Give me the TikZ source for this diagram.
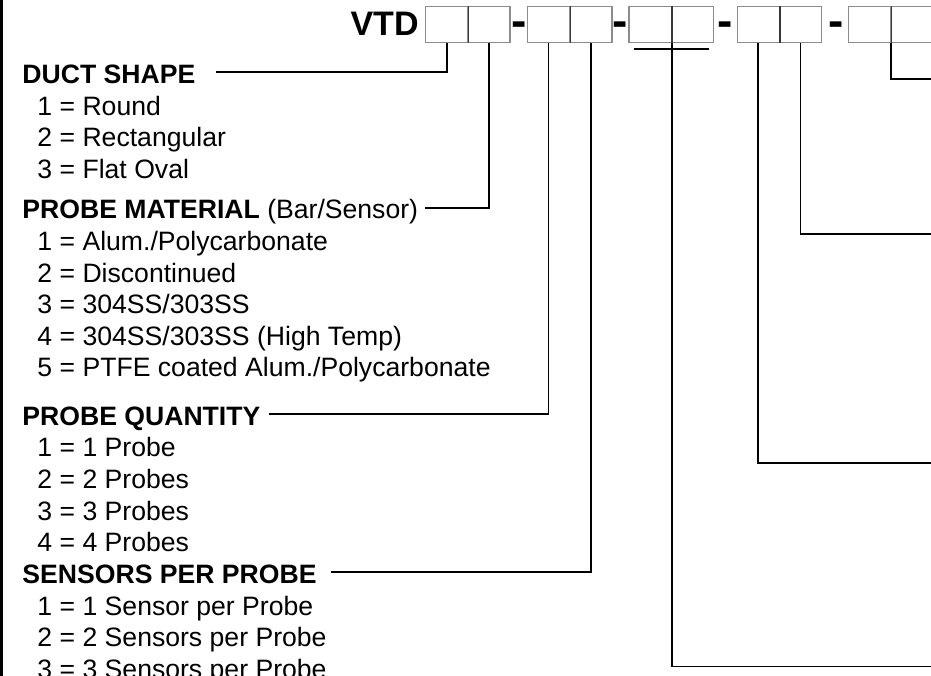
\documentclass[tikz,border=0pt]{standalone}
\usepackage{fontspec}
\setmainfont{Liberation Sans}
\newcommand{\optfont}{\fontsize{26.6}{32}\selectfont}
\newcommand{\codefont}{\fontsize{34}{40}\selectfont\bfseries}
\newcommand{\dashfont}{\fontsize{46}{52}\selectfont\bfseries}
\begin{document}
\begin{tikzpicture}[x=1pt,y=-1pt,line width=1.9pt,font=\optfont,
  cell/.style={draw=black!45,line width=1.4pt,minimum width=42.2pt,minimum height=36pt,inner sep=0pt},
  divider/.style={draw=black!78,line width=1.4pt},
  head/.style={anchor=base west,inner sep=0pt,text height=22pt,text depth=0pt,font=\optfont\bfseries},
  opt/.style={anchor=base west,inner sep=0pt},
  sep/.style={anchor=base,inner sep=0pt,font=\dashfont}]
\useasboundingbox (0,0) rectangle (931,676);
\fill (0,0) rectangle (2.5,676);
\node[anchor=base east,inner sep=0pt,font=\codefont] (vtd) at (419.5,36) {VTD};
\node[cell] (c1) at (446.7,24.5) {};
\node[cell] (c2) at (488.9,24.5) {};
\node[cell] (c3) at (548.5,24.5) {};
\node[cell] (c4) at (590.7,24.5) {};
\node[cell] (c5) at (650.2,24.5) {};
\node[cell] (c6) at (692.4,24.5) {};
\node[cell] (c7) at (758.3,24.5) {};
\node[cell] (c8) at (800.5,24.5) {};
\node[cell] (c9) at (869.5,24.5) {};
\node[cell] (c10) at (911.7,24.5) {};
\foreach \c in {c1,c3,c5,c7,c9}{\draw[divider] (\c.north east) -- (\c.south east);}
\node[sep] (d1) at (519,36.5) {-};
\node[sep] (d2) at (620,36.5) {-};
\node[sep] (d3) at (725,36.5) {-};
\node[sep] (d4) at (836,36.5) {-};
\node[head] (duct) at (21.5,83.3) {DUCT SHAPE};
\node[opt] (duct1) at (36.5,115.5) {1 = Round};
\node[opt] (duct2) at (36.5,147) {2 = Rectangular};
\node[opt] (duct3) at (36.5,178.5) {3 = Flat Oval};
\node[head] (mat) at (21.5,219) {PROBE MATERIAL \mdseries(Bar/Sensor)};
\node[opt] (mat1) at (36.5,250.5) {1 = Alum./Polycarbonate};
\node[opt] (mat2) at (36.5,282) {2 = Discontinued};
\node[opt] (mat3) at (36.5,313.5) {3 = 304SS/303SS};
\node[opt] (mat4) at (36.5,345) {4 = 304SS/303SS (High Temp)};
\node[opt] (mat5) at (36.5,376.5) {5 = PTFE coated Alum./Polycarbonate};
\node[head] (qty) at (21.5,425) {PROBE QUANTITY};
\node[opt] (qty1) at (36.5,456.7) {1 = 1 Probe};
\node[opt] (qty2) at (36.5,488.3) {2 = 2 Probes};
\node[opt] (qty3) at (36.5,520) {3 = 3 Probes};
\node[opt] (qty4) at (36.5,551.7) {4 = 4 Probes};
\node[head] (spp) at (21.5,583.3) {SENSORS PER PROBE};
\node[opt] (spp1) at (36.5,615) {1 = 1 Sensor per Probe};
\node[opt] (spp2) at (36.5,646.7) {2 = 2 Sensors per Probe};
\node[opt] (spp3) at (36.5,678.3) {3 = 3 Sensors per Probe};
\coordinate (e1) at (931,79);
\coordinate (e2) at (931,234);
\coordinate (e3) at (931,463);
\coordinate (e4) at (931,666.5);
\draw ([xshift=20pt]duct.east) -| (c1.south);
\draw ([xshift=6pt]mat.east) -| (c2.south);
\draw ([xshift=8pt]qty.east) -| (c3.south);
\draw ([xshift=13pt]spp.east) -| (c4.south);
\draw (c9.south east) |- (e1);
\draw (c8.south) |- (e2);
\draw (c7.south) |- (e3);
\draw (c5.south east) |- (e4);
\draw ([xshift=6pt,yshift=-5.5pt]c5.south west) -- ([xshift=-5pt,yshift=-5.5pt]c6.south east);
\end{tikzpicture}
\end{document}
